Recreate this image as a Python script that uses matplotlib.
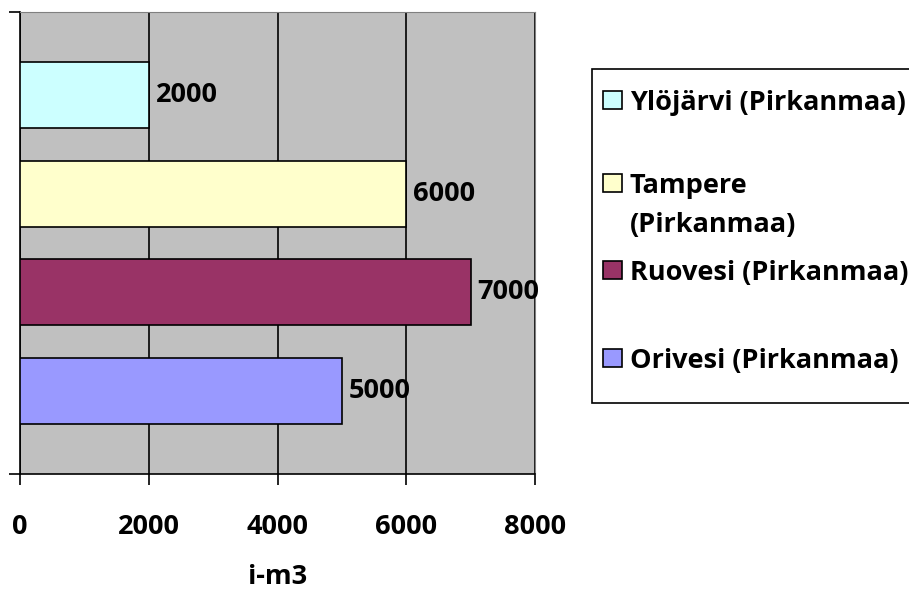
import matplotlib
matplotlib.use("Agg")
import matplotlib.pyplot as plt
from matplotlib.patches import Rectangle

plt.rcParams['font.family'] = ['Open Sans', 'DejaVu Sans']
plt.rcParams['font.weight'] = 'bold'

# bottom-to-top order as drawn
categories = ["Orivesi (Pirkanmaa)", "Ruovesi (Pirkanmaa)", "Tampere\n(Pirkanmaa)", "Ylöjärvi (Pirkanmaa)"]
values = [5000, 7000, 6000, 2000]
colors = ["#9999FF", "#993366", "#FFFFCC", "#CCFFFF"]
xticks = [0, 2000, 4000, 6000, 8000]
xlabel = "i-m3"

FS = 19.5
W, H = 909, 594
fig = plt.figure(figsize=(W / 100, H / 100), dpi=100)
ax = fig.add_axes([20 / W, (H - 474) / H, 515 / W, 462 / H])
ax.set_facecolor("#C0C0C0")

ypos = list(range(len(categories)))
ax.barh(ypos, values, height=0.667, color=colors, edgecolor="black", linewidth=1.2, zorder=3)
for y, v in zip(ypos, values):
    ax.annotate(f"{v}", (v, y), xytext=(5, 0), textcoords="offset points",
                va="center", ha="left", fontsize=FS, fontweight="bold", zorder=4)

ax.set_xlim(0, 8000)
ax.set_ylim(-0.84, len(categories) - 1 + 0.84)
ax.set_xticks(xticks)
ax.set_xticklabels([str(t) for t in xticks], fontsize=FS, fontweight="bold")
ax.tick_params(axis="x", length=8, width=1.2, pad=21, direction="out")
ax.set_yticks(ax.get_ylim())
ax.set_yticklabels([])
ax.tick_params(axis="y", length=8, width=1.2, direction="out")
ax.xaxis.grid(True, color="black", linewidth=1.2, zorder=1)
ax.set_axisbelow(True)
ax.set_xlabel(xlabel, fontsize=FS, fontweight="bold", labelpad=17)

ax.spines["left"].set_color("black")
ax.spines["left"].set_linewidth(1.2)
ax.spines["bottom"].set_color("black")
ax.spines["bottom"].set_linewidth(1.2)
ax.spines["top"].set_color("#808080")
ax.spines["right"].set_color("#808080")

# legend box drawn in figure pixel coordinates
def fx(px):
    return px / W

def fy(py):
    return 1 - py / H

box_l, box_t, box_b = 592, 69, 403
fig.patches.append(Rectangle((fx(box_l), fy(box_b)), fx(W + 5) - fx(box_l), fy(box_t) - fy(box_b),
                             transform=fig.transFigure, facecolor="white", edgecolor="black",
                             linewidth=1.2, zorder=5))
# first-line centre of each legend entry (top to bottom), in pixels
entry_y = [100, 183, 270, 358]
line_gap = 39
for yc, cat, col in zip(entry_y, categories[::-1], colors[::-1]):
    fig.patches.append(Rectangle((fx(603), fy(yc + 9)), fx(19), fy(0) - fy(18),
                                 transform=fig.transFigure, facecolor=col, edgecolor="black",
                                 linewidth=1.2, zorder=6))
    for k, line in enumerate(cat.split("\n")):
        fig.text(fx(630), fy(yc + k * line_gap), line, ha="left", va="center_baseline",
                 fontsize=FS, fontweight="bold", zorder=7)

fig.savefig("out.png", dpi=100)
